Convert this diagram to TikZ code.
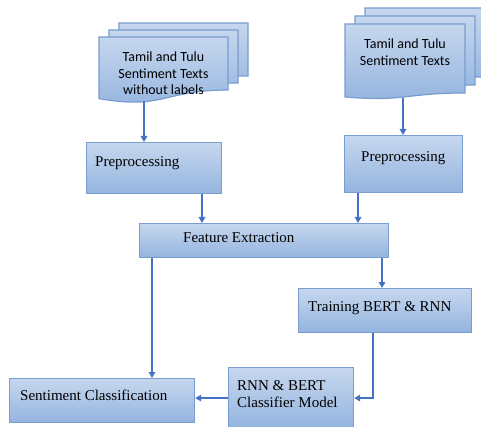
\documentclass[tikz,border=0pt]{standalone}
\usepackage{fontspec}
\setmainfont{Liberation Serif}
\newfontfamily\calib{Carlito}
\usetikzlibrary{arrows.meta}
\definecolor{boxtop}{RGB}{198,215,238}
\definecolor{boxbot}{RGB}{148,180,223}
\definecolor{boxline}{RGB}{120,157,206}
\definecolor{arr}{RGB}{68,114,196}
\tikzset{
  boxnode/.style={draw=boxline, line width=1.2pt, top color=boxtop, bottom color=boxbot,
    anchor=north west, inner sep=0pt, rectangle},
  lbl/.style={font=\fontsize{15}{17}\selectfont, inner sep=0pt, anchor=base west},
  lbltwo/.style={font=\fontsize{15}{17}\selectfont, inner sep=0pt, anchor=north west, align=left},
  doclbl/.style={font=\calib\fontsize{14}{16.5}\selectfont, inner sep=0pt, anchor=north, align=center},
  docpagestyle/.style={draw=boxline, line width=1.2pt, top color=boxtop, bottom color=boxbot},
  flow/.style={draw=arr, line width=1.6pt, -{Triangle[length=6pt,width=6.5pt]}},
}
% l t r yr yl c2
\newcommand{\mydocpage}[6]{%
  \path[docpagestyle] (#1,#2) -- (#3,#2) -- (#3,#4)
    .. controls ({(#1+#3)/2},#4) and ({(#1+#3)/2},#6) .. (#1,#5) -- cycle;}
\begin{document}
\begin{tikzpicture}[x=1pt,y=-1pt]
\useasboundingbox (0,0) rectangle (481,427);
% left multidocument
\mydocpage{119}{23}{248}{76}{84.6}{96}
\mydocpage{109}{30}{238}{83}{91.6}{103}
\mydocpage{99}{37}{228}{90}{98.6}{110}
\node[doclbl] (docL) at (163.5,52) {Tamil and Tulu\\Sentiment Texts\\without labels};
% right multidocument
\mydocpage{365}{8}{485}{77}{81}{86}
\mydocpage{355}{16}{475}{85}{89}{94}
\mydocpage{345}{24}{465}{93}{97}{102}
\node[doclbl] (docR) at (405,39) {Tamil and Tulu\\Sentiment Texts};
\coordinate (dLb) at (144,101);
\coordinate (dRb) at (403,98);
% boxes
\node[boxnode, minimum width=135pt, minimum height=51pt] (prepL) at (86,142) {};
\node[lbl] (prepLt) at (95,167) {Preprocessing};
\node[boxnode, minimum width=118pt, minimum height=57pt] (prepR) at (344,135) {};
\node[lbl] (prepRt) at (361,162) {Preprocessing};
\node[boxnode, minimum width=249pt, minimum height=34pt] (fe) at (139,223) {};
\node[lbl] (fet) at (183,243) {Feature Extraction};
\node[boxnode, minimum width=173pt, minimum height=44pt] (train) at (298,288) {};
\node[lbl] (traint) at (308,311) {Training BERT \& RNN};
\node[boxnode, minimum width=185pt, minimum height=44pt] (sc) at (9,378) {};
\node[lbl] (sct) at (20,400) {Sentiment Classification};
\node[boxnode, minimum width=125pt, minimum height=61pt] (cm) at (228,367) {};
\node[lbltwo] (cmt) at (237,380.5) {RNN \& BERT\\Classifier Model};
% helper x positions
\coordinate (x202) at (202,0);
\coordinate (x358) at (358,0);
\coordinate (x152) at (152,0);
\coordinate (x382) at (382,0);
\coordinate (x373) at (373,0);
% connectors
\draw[flow] (dLb) -- (dLb |- prepL.north);
\draw[flow] (dRb) -- (dRb |- prepR.north);
\draw[flow] (x202 |- prepL.south) -- (x202 |- fe.north);
\draw[flow] (x358 |- prepR.south) -- (x358 |- fe.north);
\draw[flow] (x152 |- fe.south) -- (x152 |- sc.north);
\draw[flow] (x382 |- fe.south) -- (x382 |- train.north);
\draw[flow] (x373 |- train.south) |- (cm.east);
\draw[flow] (cm.west) -- (cm.west -| sc.east);
\end{tikzpicture}
\end{document}
